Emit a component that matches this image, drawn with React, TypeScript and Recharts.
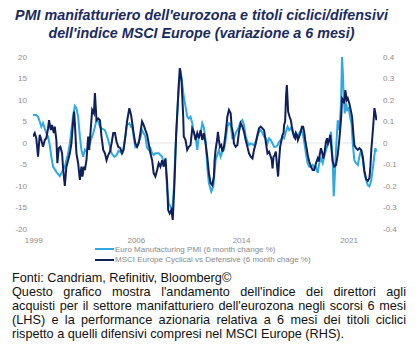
import React from "react";
import { LineChart, Line, XAxis, YAxis, ReferenceLine } from "recharts";

const titleLines = [
  "PMI manifatturiero dell'eurozona e titoli ciclici/difensivi",
  "dell'indice MSCI Europe (variazione a 6 mesi)",
];

const seriesNames = [
  "Euro Manufacturing PMI (6 month change %)",
  "MSCI Europe Cyclical vs Defensive (6 month chage %)",
];

const xTicks = [1999.05, 2006.21, 2013.55, 2021.05];
const xTickLabels = ["1999", "2006", "2014", "2021"];
const leftTicks = [-20, -15, -10, -5, 0, 5, 10, 15, 20];
const rightTicks = [-0.4, -0.3, -0.2, -0.1, 0, 0.1, 0.2, 0.3, 0.4];

// Euro Manufacturing PMI, 6 month change % (LHS)
const pmiDates = [
  1999.0, 1999.23, 1999.35, 1999.47, 1999.58, 1999.7, 1999.82, 1999.93, 2000.05, 2000.17,
  2000.28, 2000.4, 2000.63, 2000.87, 2000.98, 2001.22, 2001.45, 2001.57, 2001.68, 2001.8,
  2001.92, 2002.03, 2002.15, 2002.27, 2002.38, 2002.5, 2002.62, 2002.73, 2002.85, 2002.97,
  2003.08, 2003.2, 2003.32, 2003.43, 2003.55, 2003.67, 2003.78, 2004.02, 2004.25, 2004.48,
  2004.67, 2004.83, 2004.97, 2005.21, 2005.32, 2005.44, 2005.56, 2005.72, 2005.84, 2005.91,
  2006.02, 2006.14, 2006.26, 2006.37, 2006.49, 2006.61, 2006.72, 2006.84, 2006.96, 2007.07,
  2007.19, 2007.31, 2007.42, 2007.54, 2007.77, 2007.89, 2008.01, 2008.12, 2008.24, 2008.36,
  2008.47, 2008.59, 2008.71, 2008.82, 2008.94, 2009.06, 2009.17, 2009.29, 2009.41, 2009.52,
  2009.64, 2009.76, 2009.87, 2009.99, 2010.11, 2010.22, 2010.34, 2010.46, 2010.57, 2010.69,
  2010.81, 2010.92, 2011.04, 2011.16, 2011.27, 2011.44, 2011.58, 2011.74, 2011.97, 2012.09,
  2012.21, 2012.32, 2012.44, 2012.56, 2012.67, 2012.79, 2012.91, 2013.02, 2013.14, 2013.26,
  2013.37, 2013.49, 2013.61, 2013.72, 2013.84, 2013.96, 2014.07, 2014.19, 2014.42, 2014.54,
  2014.66, 2014.77, 2014.89, 2015.01, 2015.12, 2015.24, 2015.36, 2015.47, 2015.59, 2015.71,
  2015.82, 2015.94, 2016.06, 2016.17, 2016.29, 2016.41, 2016.52, 2016.64, 2016.76, 2016.87,
  2016.99, 2017.11, 2017.22, 2017.34, 2017.46, 2017.57, 2017.69, 2017.81, 2017.92, 2018.04,
  2018.16, 2018.27, 2018.39, 2018.51, 2018.62, 2018.74, 2018.86, 2018.97, 2019.09, 2019.21,
  2019.32, 2019.44, 2019.56, 2019.67, 2019.79, 2019.91, 2019.98, 2020.05, 2020.14, 2020.26,
  2020.37, 2020.49, 2020.56, 2020.61, 2020.68, 2020.75, 2020.84, 2020.93, 2021.03, 2021.12,
  2021.22, 2021.31, 2021.42, 2021.54, 2021.66, 2021.77, 2021.89, 2022.01, 2022.12, 2022.24,
  2022.36, 2022.47, 2022.59, 2022.71, 2022.82, 2022.89, 2022.96,
];
const pmiValues = [
  6.5, 6.5, 6.1, 5.0, 3.8, 4.6, 3.4, 2.3, 1.5, -0.5,
  -3.2, -5.5, -6.7, -7.7, -7.0, -5.5, -2.4, -0.1, 3.0, 6.5,
  8.6, 8.1, 6.1, 1.5, -1.6, -3.2, -1.6, -2.0, -0.9, -0.1,
  1.1, 2.3, 3.8, 5.3, 5.0, 3.8, 3.4, 3.0, 0.7, -2.4,
  -3.2, -2.8, -1.8, -2.4, -1.2, 1.5, 4.2, 4.6, 3.8, 4.2,
  1.5, -0.9, -0.5, 0.3, 1.1, 3.0, 2.3, 1.5, -1.2, -1.6,
  -1.2, -2.4, -2.8, -2.4, -2.4, -2.8, -3.2, -4.7, -4.0, -10.9,
  -14.0, -14.8, -16.3, -10.9, -1.6, 6.1, 13.8, 17.0, 13.8, 10.8,
  8.5, 6.1, 5.7, 6.1, 4.6, 2.3, 1.5, -1.6, 1.5, 2.3,
  4.6, 3.6, 0.5, -5.5, -9.3, -11.3, -10.1, -4.0, -1.6, -3.2,
  -2.0, -1.6, 0.7, 3.8, 4.6, 4.2, 1.1, 1.1, 2.3, 3.0,
  3.8, 5.0, 5.3, 4.2, 1.5, 0.3, -0.5, -0.1, -0.5, 0.3,
  1.5, 2.6, 3.0, 2.3, 1.5, 1.1, -0.1, 1.1, 0.7, -0.1,
  -0.9, -0.9, -0.5, 0.3, 0.7, 1.5, 1.1, 2.6, 3.8, 3.0,
  3.5, 2.6, 1.5, 2.3, 1.1, 2.3, 3.0, 2.3, 0.3, -2.4,
  -4.7, -5.5, -5.5, -5.1, -5.9, -5.5, -7.0, -4.7, -3.6, -4.7,
  -3.2, -1.6, -0.5, 0.7, 2.6, -4.3, -12.4, -8.2, -1.6, 5.3,
  3.0, 9.2, 20.0, 17.0, 10.8, 6.9, 9.2, 7.7, 8.1, 6.1,
  4.6, -0.1, -4.0, -4.7, -5.1, -3.2, -1.6, -4.0, -7.0, -8.6,
  -9.8, -10.1, -8.9, -5.9, -2.8, -1.2, -2.0,
];

// MSCI Europe Cyclical vs Defensive, 6 month change (RHS)
const cycDates = [
  1999.0, 1999.12, 1999.23, 1999.35, 1999.47, 1999.58, 1999.7, 1999.82, 1999.93, 2000.05,
  2000.12, 2000.24, 2000.33, 2000.45, 2000.52, 2000.63, 2000.7, 2000.8, 2000.91, 2001.03,
  2001.1, 2001.22, 2001.33, 2001.45, 2001.57, 2001.68, 2001.8, 2001.87, 2001.92, 2002.03,
  2002.15, 2002.27, 2002.38, 2002.45, 2002.55, 2002.62, 2002.73, 2002.85, 2002.92, 2003.04,
  2003.13, 2003.25, 2003.32, 2003.43, 2003.55, 2003.67, 2003.78, 2003.9, 2004.02, 2004.13,
  2004.25, 2004.37, 2004.48, 2004.6, 2004.72, 2004.83, 2004.95, 2005.09, 2005.21, 2005.32,
  2005.44, 2005.56, 2005.72, 2005.84, 2005.91, 2006.02, 2006.14, 2006.26, 2006.37, 2006.49,
  2006.61, 2006.72, 2006.84, 2006.96, 2007.07, 2007.19, 2007.31, 2007.42, 2007.54, 2007.66,
  2007.77, 2007.89, 2008.01, 2008.12, 2008.24, 2008.36, 2008.43, 2008.54, 2008.66, 2008.75,
  2008.87, 2008.99, 2009.1, 2009.24, 2009.36, 2009.48, 2009.52, 2009.64, 2009.76, 2009.87,
  2009.99, 2010.11, 2010.22, 2010.34, 2010.46, 2010.57, 2010.69, 2010.81, 2010.92, 2011.04,
  2011.16, 2011.27, 2011.39, 2011.51, 2011.62, 2011.67, 2011.74, 2011.86, 2011.9, 2011.97,
  2012.04, 2012.14, 2012.21, 2012.32, 2012.44, 2012.56, 2012.67, 2012.79, 2012.86, 2012.95,
  2013.02, 2013.14, 2013.26, 2013.37, 2013.49, 2013.61, 2013.72, 2013.84, 2013.96, 2014.07,
  2014.19, 2014.31, 2014.42, 2014.54, 2014.66, 2014.77, 2014.89, 2015.01, 2015.12, 2015.19,
  2015.29, 2015.36, 2015.47, 2015.59, 2015.66, 2015.71, 2015.78, 2015.87, 2015.94, 2016.01,
  2016.1, 2016.17, 2016.24, 2016.34, 2016.41, 2016.48, 2016.52, 2016.59, 2016.66, 2016.71,
  2016.8, 2016.9, 2016.99, 2017.06, 2017.15, 2017.22, 2017.29, 2017.34, 2017.41, 2017.48,
  2017.57, 2017.69, 2017.76, 2017.85, 2017.92, 2017.99, 2018.09, 2018.16, 2018.27, 2018.39,
  2018.51, 2018.62, 2018.74, 2018.86, 2018.93, 2019.02, 2019.09, 2019.16, 2019.25, 2019.35,
  2019.44, 2019.51, 2019.58, 2019.67, 2019.74, 2019.84, 2019.91, 2020.02, 2020.14, 2020.26,
  2020.37, 2020.44, 2020.51, 2020.56, 2020.65, 2020.72, 2020.79, 2020.89, 2020.96, 2021.07,
  2021.19, 2021.26, 2021.35, 2021.42, 2021.54, 2021.66, 2021.77, 2021.89, 2022.01, 2022.12,
  2022.24, 2022.36, 2022.47, 2022.54, 2022.61, 2022.66, 2022.75, 2022.82, 2022.89, 2022.96,
];
const cycValues = [
  0.03, 0.046, 0.022, -0.064, 0.038, 0.014, -0.018, 0.014, 0.022, 0.068,
  0.106, 0.06, 0.084, 0.046, 0.076, 0.014, -0.094, -0.024, -0.018, -0.048,
  -0.118, -0.2, -0.11, -0.08, -0.048, -0.002, 0.1, 0.146, 0.092, -0.048,
  -0.094, -0.172, -0.11, -0.156, -0.11, -0.126, -0.08, 0.03, -0.032, 0.076,
  0.154, 0.138, 0.232, 0.106, 0.114, 0.106, 0.03, -0.032, -0.048, -0.08,
  -0.056, -0.04, -0.002, 0.046, 0.046, 0.006, -0.018, -0.024, -0.048, -0.032,
  0.03, 0.1, 0.162, 0.13, 0.1, 0.046, -0.002, -0.018, -0.002, 0.046,
  0.1, 0.084, 0.06, 0.038, -0.002, -0.048, -0.08, -0.14, -0.156, -0.126,
  -0.094, -0.11, -0.08, -0.11, -0.072, -0.186, -0.312, -0.328, -0.312, -0.358,
  -0.186, 0.046, 0.184, 0.348, 0.294, 0.122, 0.03, 0.014, -0.032, -0.018,
  -0.01, 0.068, 0.052, 0.014, 0.046, 0.022, 0.06, 0.014, 0.046, -0.002,
  -0.064, -0.14, -0.186, -0.196, -0.156, -0.08, -0.032, 0.022, 0.052, 0.014,
  -0.018, -0.01, -0.04, -0.018, 0.046, 0.122, 0.154, 0.138, 0.076, 0.046,
  -0.002, -0.018, -0.01, 0.052, 0.092, 0.076, 0.052, 0.014, -0.018, -0.048,
  -0.064, -0.072, -0.032, -0.002, 0.038, 0.068, 0.076, 0.068, 0.06, 0.03,
  -0.018, -0.048, -0.04, -0.064, -0.08, -0.118, -0.064, -0.056, -0.04, -0.094,
  -0.156, -0.08, -0.018, 0.014, 0.038, 0.046, 0.084, 0.1, 0.224, 0.27,
  0.146, 0.122, 0.106, 0.076, 0.046, 0.03, 0.022, 0.046, 0.038, 0.014,
  0.03, 0.052, 0.076, 0.076, 0.052, 0.014, -0.024, -0.054, -0.086, -0.11,
  -0.126, -0.126, -0.094, -0.072, -0.086, -0.048, -0.024, -0.04, -0.072, -0.04,
  0.006, 0.022, -0.002, 0.014, 0.038, -0.04, -0.086, -0.11, -0.102, -0.054,
  0.014, 0.068, 0.13, 0.208, 0.2, 0.184, 0.246, 0.2, 0.208, 0.184,
  0.146, 0.122, 0.046, -0.01, -0.024, -0.032, -0.024, -0.032, -0.064, -0.13,
  -0.168, -0.176, -0.164, -0.11, -0.024, 0.014, 0.092, 0.162, 0.138, 0.106,
];

const sourceLine = "Fonti: Candriam, Refinitiv, Bloomberg©";
const noteLines = [
  "Questo grafico mostra l'andamento dell'indice dei direttori agli",
  "acquisti per il settore manifatturiero dell'eurozona negli scorsi 6 mesi",
  "(LHS) e la performance azionaria relativa a 6 mesi dei titoli ciclici",
  "rispetto a quelli difensivi compresi nel MSCI Europe (RHS).",
];

const LIGHT = "#2ea9e1";
const DARK = "#0e1f5b";
const TICK = "#8c8c8c";
const FONT = "'Liberation Sans', Arial, sans-serif";

const pmiData = pmiDates.map((t, i) => ({ t, v: pmiValues[i] }));
const cycData = cycDates.map((t, i) => ({ t, v: cycValues[i] }));

const fmtRight = (v: number) => {
  if (Math.abs(v) < 1e-9) return "0";
  return String(Math.round(v * 10) / 10);
};

export default function App() {
  return (
    <div
      style={{
        position: "absolute",
        left: 0,
        top: 0,
        width: 419,
        height: 352,
        background: "#fff",
        fontFamily: FONT,
        overflow: "hidden",
      }}
    >
      <div
        style={{
          position: "absolute",
          left: 0,
          top: 7,
          width: 403,
          textAlign: "center",
          fontWeight: "bold",
          fontStyle: "italic",
          fontSize: 14.3,
          lineHeight: "17.5px",
          color: "#1b2b5e",
          whiteSpace: "nowrap",
        }}
      >
        {titleLines.map((l, i) => (
          <div key={i}>{l}</div>
        ))}
      </div>

      <div style={{ position: "absolute", left: 0, top: 0 }}>
        <LineChart
          width={419}
          height={250}
          margin={{ top: 57, right: 0, bottom: 0, left: 0 }}
          style={{ fontFamily: FONT }}
        >
          <XAxis
            type="number"
            dataKey="t"
            domain={[1999, 2023]}
            ticks={xTicks}
            tickFormatter={(v: number, i: number) => xTickLabels[i]}
            axisLine={false}
            tickLine={false}
            height={21}
            tick={{ fill: TICK, fontSize: 8 }}
            allowDataOverflow
          />
          <YAxis
            yAxisId="left"
            orientation="left"
            domain={[-20, 20]}
            ticks={leftTicks}
            width={33}
            axisLine={false}
            tickLine={false}
            tickMargin={0}
            tick={{ fill: TICK, fontSize: 8 }}
            interval={0}
          />
          <YAxis
            yAxisId="right"
            orientation="right"
            domain={[-0.4, 0.4]}
            ticks={rightTicks}
            width={42}
            axisLine={false}
            tickLine={false}
            tickMargin={0}
            tickFormatter={fmtRight}
            tick={{ fill: TICK, fontSize: 8, textAnchor: "start" }}
            interval={0}
          />
          <ReferenceLine yAxisId="left" y={0} stroke="#e4e4e4" strokeWidth={1} />
          <Line
            yAxisId="left"
            data={pmiData}
            dataKey="v"
            type="linear"
            stroke={LIGHT}
            strokeWidth={2}
            dot={false}
            isAnimationActive={false}
          />
          <Line
            yAxisId="right"
            data={cycData}
            dataKey="v"
            type="linear"
            stroke={DARK}
            strokeWidth={2}
            dot={false}
            isAnimationActive={false}
          />
        </LineChart>
      </div>

      {seriesNames.map((name, i) => (
        <div
          key={i}
          style={{
            position: "absolute",
            left: 95,
            top: 244 + i * 10.5,
            height: 10,
            display: "flex",
            alignItems: "center",
            fontSize: 8,
            color: "#8a8a8a",
            whiteSpace: "nowrap",
          }}
        >
          <span
            style={{
              display: "inline-block",
              width: 19,
              height: 2,
              background: i === 0 ? LIGHT : DARK,
              marginRight: 1,
            }}
          />
          {name}
        </div>
      ))}

      <div
        style={{
          position: "absolute",
          left: 12,
          top: 271,
          width: 394,
          fontSize: 12.7,
          lineHeight: "14px",
          color: "#111",
        }}
      >
        <div style={{ whiteSpace: "nowrap" }}>{sourceLine}</div>
        {noteLines.map((l, i) => (
          <div
            key={i}
            style={{
              textAlign: i < noteLines.length - 1 ? "justify" : "left",
              textAlignLast: i < noteLines.length - 1 ? "justify" : "left",
              whiteSpace: i < noteLines.length - 1 ? "normal" : "nowrap",
            }}
          >
            {l}
          </div>
        ))}
      </div>
    </div>
  );
}
